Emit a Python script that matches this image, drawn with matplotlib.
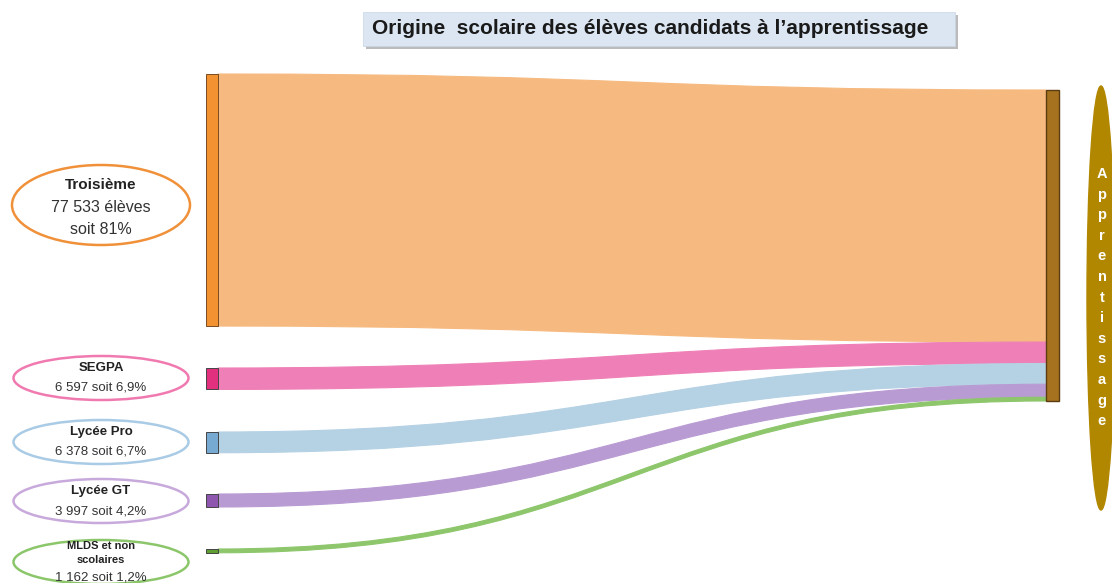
import matplotlib.pyplot as plt
from matplotlib.patches import Rectangle, Ellipse, PathPatch
from matplotlib.path import Path

# donnees
categories = ["Troisième", "SEGPA", "Lycée Pro", "Lycée GT", "MLDS et non\nscolaires"]
effectifs = [77533, 6597, 6378, 3997, 1162]
pourcents = ["81%", "6,9%", "6,7%", "4,2%", "1,2%"]
cible = "Apprentissage"
titre = "Origine  scolaire des élèves candidats à l’apprentissage"

# styles
node_cols = ["#F39231", "#E2307F", "#76AAD2", "#8E56AE", "#5E9F32"]
link_cols = ["#F6BA80", "#EF80B7", "#B5D1E4", "#B99BD3", "#8DC66B"]
ring_cols = ["#F0913A", "#F07AB0", "#A9CBE5", "#C8A9DC", "#8CC66A"]
target_col = "#A7721F"
oval_col = "#B28700"

left_tops = [74, 368, 432, 494, 549]
oval_cy = [205, 378, 442, 501, 562]
x_left, x_right, node_w = 206, 1046, 12
right_top = 90

plt.rcParams['font.family'] = ['Liberation Sans', 'DejaVu Sans']
fig = plt.figure(figsize=(11.12, 5.83), dpi=100)
ax = fig.add_axes([0, 0, 1, 1])
ax.set_xlim(0, 1112)
ax.set_ylim(583, 0)
ax.axis('off')

scale = 311.0 / sum(effectifs)

def link(xa, ya0, ya1, xb, yb0, yb1, col):
    xm = (xa + xb) / 2
    verts = [(xa, ya0), (xm, ya0), (xm, yb0), (xb, yb0),
             (xb, yb1), (xm, yb1), (xm, ya1), (xa, ya1), (xa, ya0)]
    codes = [Path.MOVETO, Path.CURVE4, Path.CURVE4, Path.CURVE4,
             Path.LINETO, Path.CURVE4, Path.CURVE4, Path.CURVE4, Path.CLOSEPOLY]
    ax.add_patch(PathPatch(Path(verts, codes), fc=col, ec=col, lw=0.8, zorder=1))

yr = right_top
for i, v in enumerate(effectifs):
    h = v * scale
    y0 = left_tops[i]
    link(x_left + node_w, y0, y0 + h, x_right, yr, yr + h, link_cols[i])
    ax.add_patch(Rectangle((x_left, y0), node_w, h, fc=node_cols[i],
                           ec="#7a4a20" if i == 0 else "#444444", lw=0.7, zorder=3))
    yr += h

ax.add_patch(Rectangle((x_right, right_top), 13, sum(effectifs) * scale,
                       fc=target_col, ec="#5a3c10", lw=1, zorder=3))

# ellipses et etiquettes
for i, cat in enumerate(categories):
    nb = f"{effectifs[i]:,}".replace(",", " ")
    if i == 0:
        ax.add_patch(Ellipse((101, oval_cy[i]), 178, 80, fc="white", ec=ring_cols[i], lw=1.8, zorder=2))
        ax.text(101, 185, cat, ha='center', va='center', fontsize=11, fontweight='bold',
                color="#222222")
        ax.text(101, 207, nb + " élèves", ha='center', va='center',
                fontsize=11.5, color="#333333")
        ax.text(101, 229, "soit " + pourcents[i], ha='center', va='center', fontsize=11.5,
                color="#333333")
    else:
        ax.add_patch(Ellipse((101, oval_cy[i]), 175, 44, fc="white", ec=ring_cols[i], lw=1.8, zorder=2))
        txt = nb + " soit " + pourcents[i]
        if "\n" in cat:
            ax.text(101, oval_cy[i] - 9, cat, ha='center', va='center', fontsize=8,
                    fontweight='bold', color="#222222", linespacing=1.5)
            ax.text(101, oval_cy[i] + 15, txt, ha='center', va='center', fontsize=9.5,
                    color="#333333")
        else:
            ax.text(101, oval_cy[i] - 10, cat, ha='center', va='center', fontsize=9.5,
                    fontweight='bold', color="#222222")
            ax.text(101, oval_cy[i] + 10, txt, ha='center', va='center', fontsize=9.5,
                    color="#333333")

# ovale cible
ax.add_patch(Ellipse((1101, 298), 28, 424, fc=oval_col, ec=oval_col, zorder=2))
for k, ch in enumerate(cible):
    ax.text(1102, 174 + k * 20.6, ch, ha='center', va='center', fontsize=10.5,
            fontweight='bold', color="white", zorder=4)

# titre
ax.add_patch(Rectangle((366, 15), 592, 34, fc="#BBBBBB", ec="none", zorder=4))
ax.add_patch(Rectangle((363, 12), 592, 34, fc="#DCE6F2", ec="#C9D6E6", lw=0.5, zorder=5))
ax.text(372, 29, titre, ha='left', va='center', fontsize=15, fontweight='bold',
        color="#1a1a1a", zorder=6)

fig.savefig("out.png", dpi=100)
